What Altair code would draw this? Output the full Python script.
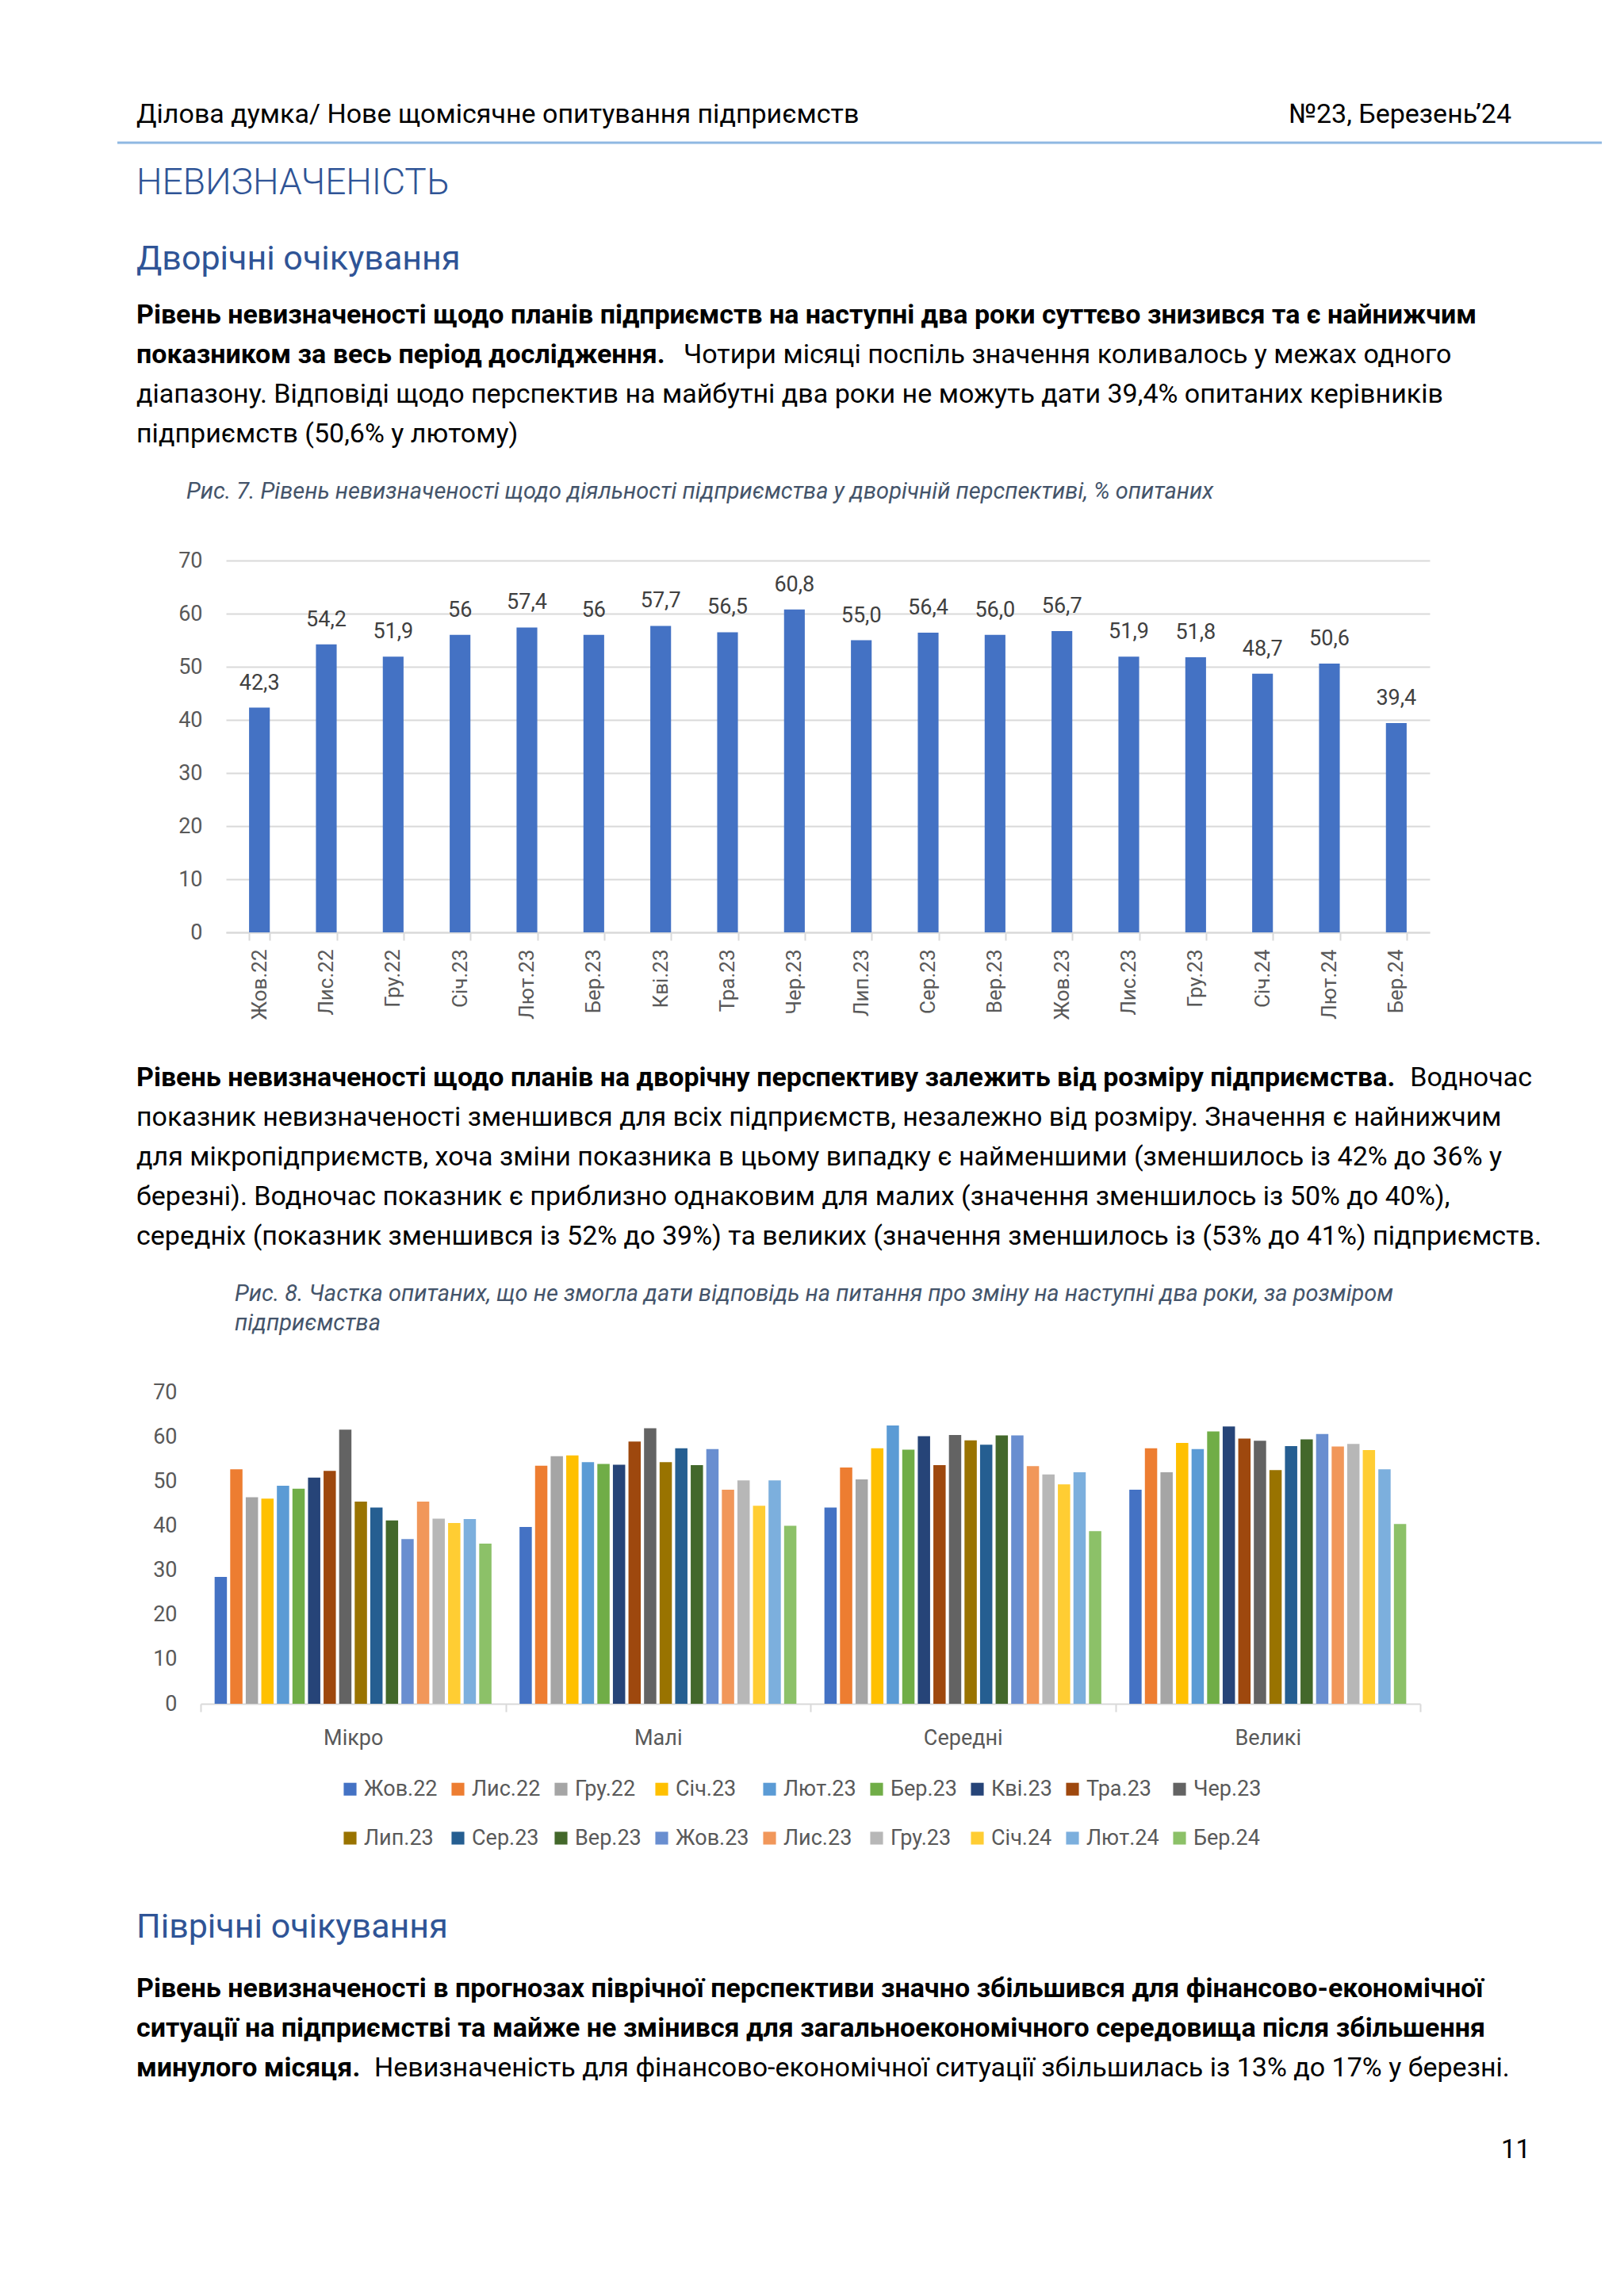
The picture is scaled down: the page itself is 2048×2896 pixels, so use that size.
import altair as alt
import pandas as pd

# ---- дані: рис. 7 ----
months = ["Жов.22", "Лис.22", "Гру.22", "Січ.23", "Лют.23", "Бер.23", "Кві.23", "Тра.23", "Чер.23",
          "Лип.23", "Сер.23", "Вер.23", "Жов.23", "Лис.23", "Гру.23", "Січ.24", "Лют.24", "Бер.24"]
two_year = [42.3, 54.2, 51.9, 56.0, 57.4, 56.0, 57.7, 56.5, 60.8,
            55.0, 56.4, 56.0, 56.7, 51.9, 51.8, 48.7, 50.6, 39.4]
two_year_labels = ["42,3", "54,2", "51,9", "56", "57,4", "56", "57,7", "56,5", "60,8",
                   "55,0", "56,4", "56,0", "56,7", "51,9", "51,8", "48,7", "50,6", "39,4"]
y_ticks = [0, 10, 20, 30, 40, 50, 60, 70]

# ---- дані: рис. 8 ----
sizes = ["Мікро", "Малі", "Середні", "Великі"]
micro = [28.5, 52.7, 46.4, 46.1, 49.0, 48.3, 50.8, 52.3, 61.6,
         45.4, 44.1, 41.2, 37.0, 45.4, 41.6, 40.6, 41.5, 36.0]
small = [39.7, 53.5, 55.6, 55.8, 54.3, 53.9, 53.7, 58.9, 61.9,
         54.3, 57.4, 53.6, 57.2, 48.1, 50.2, 44.5, 50.2, 40.0]
medium = [44.1, 53.1, 50.4, 57.4, 62.5, 57.1, 60.1, 53.6, 60.4,
          59.2, 58.2, 60.3, 60.3, 53.4, 51.5, 49.3, 52.0, 38.8]
large = [48.1, 57.4, 52.0, 58.6, 57.2, 61.2, 62.3, 59.6, 59.1,
         52.5, 57.9, 59.4, 60.6, 57.8, 58.4, 57.0, 52.7, 40.4]
palette = ["#4472C4", "#ED7D31", "#A5A5A5", "#FFC000", "#5B9BD5", "#70AD47", "#264478", "#9E480E", "#636363",
           "#997300", "#255E91", "#43682B", "#698ED0", "#F1975A", "#B7B7B7", "#FFCD33", "#7CAFDD", "#8CC168"]

FONT = "Roboto"
W, H = 2032, 2872
M = 8  # page margin
BODY = 34
CAP = 29
BLUE = "#2F5496"
GREY = "#595959"
GRID = "#D9D9D9"


def px(v):
    """page pixel -> view pixel"""
    return v - M


def line(text, x, y, size=BODY, weight="normal", style="normal", color="black", align="left"):
    return alt.Chart(pd.DataFrame({"t": [text]})).mark_text(
        align=align, baseline="middle", font=FONT, fontSize=size,
        fontWeight=weight, fontStyle=style, color=color
    ).encode(text="t:N", x=alt.value(px(x)), y=alt.value(px(y)))


texts = [
    line("Ділова думка/ Нове щомісячне опитування підприємств", 172, 145, size=34),
    line("№23, Березень’24", 1906, 145, size=34, align="right"),
    line("НЕВИЗНАЧЕНІСТЬ", 172, 231, size=46, weight=300, color=BLUE),
    line("Дворічні очікування", 172, 327, size=43, color=BLUE),
    line("Рівень невизначеності щодо планів підприємств на наступні два роки суттєво знизився та є найнижчим",
         172, 398, weight="bold"),
    line("показником за весь період дослідження.", 172, 448, weight="bold"),
    line("Чотири місяці поспіль значення коливалось у межах одного", 862, 448),
    line("діапазону. Відповіді щодо перспектив на майбутні два роки не можуть дати 39,4% опитаних керівників",
         172, 498),
    line("підприємств (50,6% у лютому)", 172, 548),
    line("Рис.  7. Рівень невизначеності щодо діяльності підприємства у дворічній перспективі, % опитаних",
         235, 620, size=CAP, style="italic", color="#44546A"),
    line("Рівень невизначеності щодо планів на дворічну перспективу залежить від розміру підприємства.",
         172, 1360, weight="bold"),
    line("Водночас", 1932, 1360, align="right"),
    line("показник невизначеності зменшився для всіх підприємств, незалежно від розміру. Значення є найнижчим",
         172, 1410),
    line("для мікропідприємств, хоча зміни показника в цьому випадку є найменшими (зменшилось із 42% до 36% у",
         172, 1460),
    line("березні). Водночас показник є приблизно однаковим для малих (значення зменшилось із 50% до 40%),",
         172, 1510),
    line("середніх (показник зменшився із 52% до 39%) та великих (значення зменшилось із (53% до 41%) підприємств.",
         172, 1560),
    line("Рис.   8. Частка опитаних, що не змогла дати відповідь на питання про зміну на наступні два роки, за розміром",
         296, 1632, size=CAP, style="italic", color="#44546A"),
    line("підприємства", 296, 1669, size=CAP, style="italic", color="#44546A"),
    line("Піврічні очікування", 172, 2431, size=43, color=BLUE),
    line("Рівень невизначеності в прогнозах піврічної перспективи значно збільшився для фінансово-економічної",
         172, 2509, weight="bold"),
    line("ситуації на підприємстві та майже не змінився для загальноекономічного середовища після збільшення",
         172, 2559, weight="bold"),
    line("минулого місяця.", 172, 2609, weight="bold"),
    line("Невизначеність для фінансово-економічної ситуації збільшилась із 13% до 17% у березні.", 472, 2609),
    line("11", 1930, 2712, size=33, align="right"),
]

header_rule = alt.Chart(pd.DataFrame({"a": [0]})).mark_rule(color="#8FB8E2", strokeWidth=3).encode(
    x=alt.value(px(148)), x2=alt.value(px(2020)), y=alt.value(px(180))
)

# ---- рис. 7 ----
df1 = pd.DataFrame({"month": months, "value": two_year, "label": two_year_labels})

x1 = alt.X("month:N", sort=months,
           scale=alt.Scale(range=[px(285), px(1803)], paddingInner=0.69, paddingOuter=0.345),
           axis=alt.Axis(orient="bottom", offset=px(1176) - H, title=None, labelAngle=270,
                         labelFont=FONT, labelFontSize=26, labelColor=GREY, labelPadding=11,
                         tickBand="extent", tickSize=10, tickColor=GRID, tickWidth=2,
                         domainColor=GRID, domainWidth=2, grid=False))
y1 = alt.Y("value:Q",
           scale=alt.Scale(domain=[0, 70], range=[px(1176), px(707)], nice=False),
           axis=alt.Axis(orient="left", offset=-px(285), values=y_ticks, title=None,
                         domain=False, ticks=False, labelPadding=30, labelFont=FONT,
                         labelFontSize=27, labelColor=GREY, gridColor=GRID, gridWidth=2))

bars1 = alt.Chart(df1).mark_bar(color="#4472C4").encode(x=x1, y=y1)
labels1 = alt.Chart(df1).mark_text(dy=-31, font=FONT, fontSize=27, color="#404040").encode(
    x=x1, y=y1, text="label:N"
)
chart1 = alt.layer(bars1, labels1)

# ---- рис. 8 ----
rows = []
for s, vals in zip(sizes, [micro, small, medium, large]):
    for m, v in zip(months, vals):
        rows.append({"size": s, "month": m, "value": v})
df2 = pd.DataFrame(rows)

x2 = alt.X("size:N", sort=sizes,
           scale=alt.Scale(range=[px(253), px(1791)], paddingInner=0, paddingOuter=0),
           axis=alt.Axis(orient="bottom", offset=px(2149) - H, title=None, labelAngle=0,
                         labelFont=FONT, labelFontSize=27, labelColor=GREY, labelPadding=20,
                         tickBand="extent", tickSize=10, tickColor=GRID, tickWidth=2,
                         domainColor=GRID, domainWidth=2, grid=False))
y2 = alt.Y("value:Q",
           scale=alt.Scale(domain=[0, 70], range=[px(2149), px(1756)], nice=False),
           axis=alt.Axis(orient="left", offset=-px(253), values=y_ticks, title=None,
                         domain=False, ticks=False, labelPadding=30, labelFont=FONT,
                         labelFontSize=27, labelColor=GREY, gridColor=GRID, gridWidth=2))

chart2 = alt.Chart(df2).mark_bar().encode(
    x=x2,
    xOffset=alt.XOffset("month:N", sort=months, scale=alt.Scale(paddingInner=0.21, paddingOuter=0.9)),
    y=y2,
    color=alt.Color("month:N", sort=months, scale=alt.Scale(domain=months, range=palette),
                    legend=alt.Legend(orient="none", legendX=px(428), legendY=px(2243), columns=9,
                                      direction="horizontal", title=None, symbolType="square",
                                      symbolSize=260, symbolStrokeWidth=0, labelFont=FONT,
                                      labelFontSize=27, labelColor=GREY, labelOffset=4,
                                      columnPadding=12, rowPadding=34)),
)

page = alt.layer(*texts, header_rule, chart1, chart2).resolve_scale(
    x="independent", y="independent"
).properties(
    width=W, height=H, padding=0, autosize=alt.AutoSizeParams(type="none"), background="white"
).configure_view(stroke=None)

page.save("out.html", embed_options={"renderer": "svg", "actions": False})
